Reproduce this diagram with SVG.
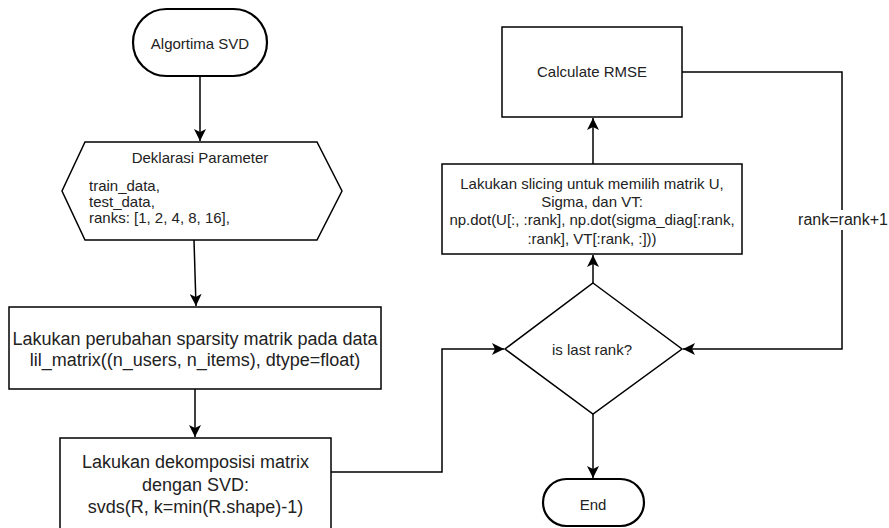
<svg xmlns="http://www.w3.org/2000/svg" width="889" height="528" viewBox="0 0 889 528">
<style>
  .shape { fill: #ffffff; stroke: #000000; stroke-width: 1.5; }
  .term { fill: #ffffff; stroke: #000000; stroke-width: 2.2; }
  .conn { fill: none; stroke: #000000; stroke-width: 1.5; }
  text { font-family: "Liberation Sans", Arial, sans-serif; fill: #222222; }
  .t15 { font-size: 15px; }
  .t18 { font-size: 18px; }
  .t16 { font-size: 16px; }
  .c { text-anchor: middle; }
</style>
<defs>
  <marker id="arrow" viewBox="0 0 12 12" refX="12" refY="6" markerWidth="12" markerHeight="12" orient="auto" markerUnits="userSpaceOnUse">
    <path d="M0,0 L12,6 L0,12 L3,6 Z" fill="#000000"/>
  </marker>
</defs>

<g id="connectors">
  <path class="conn" d="M200,76 L200,141" marker-end="url(#arrow)"/>
  <path class="conn" d="M194,240 L196,306" marker-end="url(#arrow)"/>
  <path class="conn" d="M195,389 L195,437" marker-end="url(#arrow)"/>
  <path class="conn" d="M331,472 L442,472 L442,349 L504,349" marker-end="url(#arrow)"/>
  <path class="conn" d="M593,283 L593,255" marker-end="url(#arrow)"/>
  <path class="conn" d="M593,164 L593,118" marker-end="url(#arrow)"/>
  <path class="conn" d="M682,72 L842,72 L842,349 L683,349" marker-end="url(#arrow)"/>
  <path class="conn" d="M593,414 L593,478" marker-end="url(#arrow)"/>
  <rect x="795" y="210" width="94" height="20" fill="#ffffff"/>
  <text class="t16 c" x="843" y="225">rank=rank+1</text>
</g>

<g id="start">
  <rect class="term" x="133" y="9" width="134" height="67" rx="33.5" ry="33.5"/>
  <text class="t15 c" x="200" y="49">Algortima SVD</text>
</g>

<g id="params">
  <polygon class="shape" points="85,142 317,142 342,191 317,240 85,240 62,191"/>
  <text class="t15 c" x="200" y="163">Deklarasi Parameter</text>
  <text class="t15" x="89" y="191">train_data,</text>
  <text class="t15" x="89" y="207">test_data,</text>
  <text class="t15" x="89" y="223">ranks: [1, 2, 4, 8, 16],</text>
</g>

<g id="sparsity">
  <rect class="shape" x="9" y="307" width="372" height="82"/>
  <text class="t18 c" x="195" y="345">Lakukan perubahan sparsity matrik pada data</text>
  <text class="t18 c" x="195" y="366">lil_matrix((n_users, n_items), dtype=float)</text>
</g>

<g id="svd">
  <rect class="shape" x="60" y="438" width="271" height="100"/>
  <text class="t18 c" x="195.5" y="468">Lakukan dekomposisi matrix</text>
  <text class="t18 c" x="195.5" y="491">dengan SVD:</text>
  <text class="t18 c" x="195.5" y="513">svds(R, k=min(R.shape)-1)</text>
</g>

<g id="decision">
  <polygon class="shape" points="593,283 682,349 593,414 505,349"/>
  <text class="t15 c" x="592" y="355">is last rank?</text>
</g>

<g id="slicing">
  <rect class="shape" x="442" y="164" width="300" height="90"/>
  <text class="t15 c" x="592" y="189">Lakukan slicing untuk memilih matrik U,</text>
  <text class="t15 c" x="592" y="207">Sigma, dan VT:</text>
  <text class="t15 c" x="592" y="225">np.dot(U[:, :rank], np.dot(sigma_diag[:rank,</text>
  <text class="t15 c" x="592" y="244">:rank], VT[:rank, :]))</text>
</g>

<g id="rmse">
  <rect class="shape" x="502" y="27" width="180" height="90"/>
  <text class="t15 c" x="592" y="77">Calculate RMSE</text>
</g>

<g id="end">
  <rect class="term" x="543" y="479" width="101" height="47" rx="23.5" ry="23.5"/>
  <text class="t15 c" x="593" y="510">End</text>
</g>
</svg>
